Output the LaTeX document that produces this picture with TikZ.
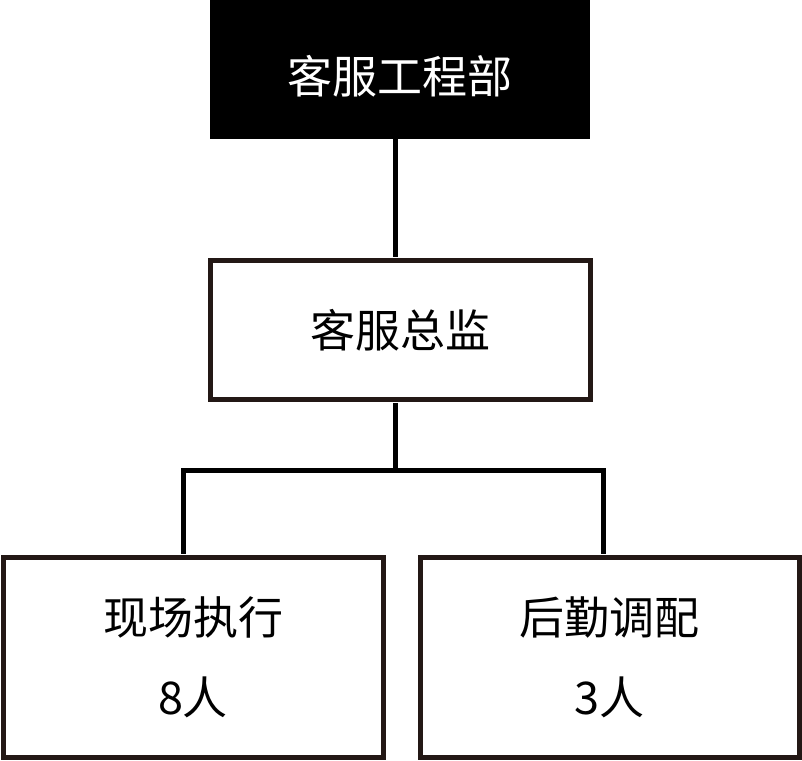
\documentclass[tikz,border=0pt]{standalone}
\usepackage{fontspec}
\setmainfont{Noto Sans CJK SC}
\definecolor{boxline}{HTML}{231815}
\begin{document}
\begin{tikzpicture}[x=1pt,y=-1pt,
  orgbox/.style={rectangle, draw=boxline, line width=5pt, fill=white, inner sep=0pt, align=center,
    font=\fontsize{45}{80}\selectfont},
  headbox/.style={rectangle, fill=black, inner sep=0pt, text=white, font=\fontsize{45}{54}\selectfont},
  link/.style={draw=black, line width=5pt}]
\useasboundingbox (0,0) rectangle (802,760);
\node[headbox, minimum width=380pt, minimum height=139pt] (top) at (400,69.5) {\raisebox{0pt}[47pt][0pt]{客服工程部}};
\node[orgbox, minimum width=380pt, minimum height=138.5pt] (mid) at (400,330) {客服总监};
\node[orgbox, minimum width=380pt, minimum height=200pt] (left) at (193,657) {现场执行\\8人};
\node[orgbox, minimum width=379pt, minimum height=200pt] (right) at (609.5,657) {后勤调配\\3人};
\coordinate (bus) at (395,470);
\draw[link] ([xshift=-5pt,yshift=1pt]top.south) -- ([xshift=-5pt,yshift=1pt]mid.north);
\draw[link] ([xshift=-5pt,yshift=-1pt]mid.south) -- (bus);
\draw[link] ([xshift=-10pt,yshift=1pt]left.north) |- (bus) -| ([xshift=-6.5pt,yshift=1pt]right.north);
\end{tikzpicture}
\end{document}
